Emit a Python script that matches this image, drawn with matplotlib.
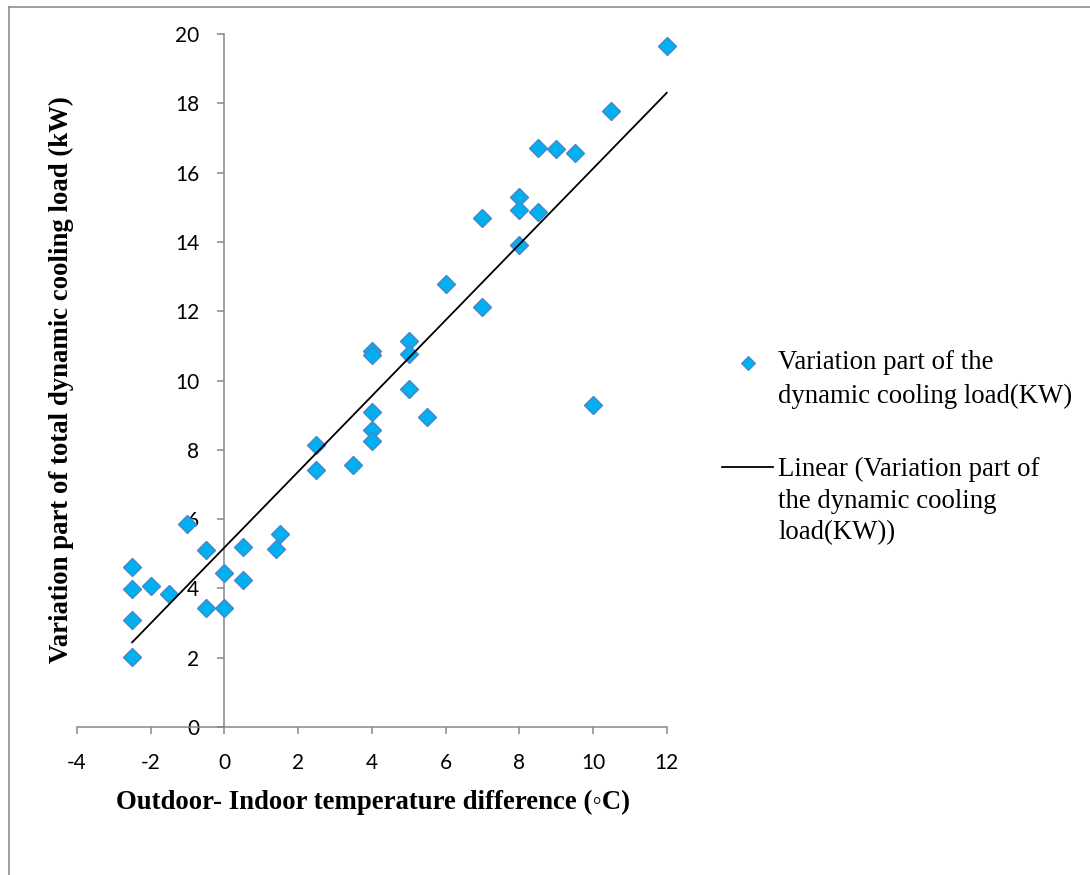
import numpy as np
import matplotlib
matplotlib.use('Agg')
import matplotlib.pyplot as plt
from matplotlib.lines import Line2D

# Разность температур наружного и внутреннего воздуха, °C
temp_diff = [-2.5, -2.5, -2.0, -1.5, -2.5, -2.5, -1.0, -0.5, 0.0, -0.5,
             0.0, 0.5, 0.5, 1.4, 1.5,
             4.0, 4.0, 5.0, 5.0, 5.0, 4.0, 4.0, 4.0, 5.5, 3.5, 2.5, 2.5,
             12.0, 10.5, 8.5, 9.0, 9.5, 8.0, 8.0, 8.5, 7.0, 8.0, 6.0, 7.0, 10.0]
# Переменная часть динамической холодильной нагрузки, кВт
cooling_load = [4.61, 3.98, 4.08, 3.84, 3.08, 2.03, 5.85, 5.11, 4.45, 3.43,
                3.43, 5.20, 4.24, 5.14, 5.56,
                10.85, 10.73, 11.15, 10.78, 9.75, 9.08, 8.56, 8.25, 8.96, 7.56, 8.15, 7.42,
                19.65, 17.78, 16.72, 16.68, 16.56, 15.29, 14.92, 14.86, 14.69, 13.92, 12.78, 12.12, 9.30]

x_ticks = [-4, -2, 0, 2, 4, 6, 8, 10, 12]
y_ticks = [0, 2, 4, 6, 8, 10, 12, 14, 16, 18, 20]

serif = ['Liberation Serif', 'DejaVu Serif']
axis_gray = '#868686'

fig = plt.figure(figsize=(10.9, 8.75), dpi=100)
ax = fig.add_axes([0.0705, 0.1691, 0.5412, 0.7920])

# точки измерений
ax.plot(temp_diff, cooling_load, linestyle='none', marker='D', ms=9,
        markerfacecolor='#00B0F0', markeredgecolor='#4A86C5', mew=1.0,
        zorder=3, clip_on=False)

# линейный тренд (метод наименьших квадратов)
k, b = np.polyfit(temp_diff, cooling_load, 1)
xs = np.array([min(temp_diff), max(temp_diff)])
ax.plot(xs, k * xs + b, color='black', lw=1.3, zorder=4, clip_on=False)

ax.set_xlim(-4, 12)
ax.set_ylim(0, 20)
ax.set_xticks(x_ticks, [str(v) for v in x_ticks])
ax.set_yticks(y_ticks, [str(v) for v in y_ticks])

# оси пересекаются в нуле
ax.spines['left'].set_position(('data', 0))
ax.spines['bottom'].set_position(('data', 0))
ax.spines['top'].set_visible(False)
ax.spines['right'].set_visible(False)
for s in ('left', 'bottom'):
    ax.spines[s].set_color(axis_gray)
    ax.spines[s].set_linewidth(1.1)
ax.tick_params(axis='x', direction='out', length=5, width=1.1, color=axis_gray, pad=14,
               labelsize=15, labelfontfamily='Lato')
ax.tick_params(axis='y', direction='out', length=5, width=1.1, color=axis_gray, pad=13,
               labelsize=15, labelfontfamily='Lato')

fig.text(373 / 1090, 1 - 802 / 875, 'Outdoor- Indoor temperature difference (◦C)',
         ha='center', va='center', fontsize=19.3, fontweight='bold', family=serif)
fig.text(61 / 1090, 1 - 380 / 875, 'Variation part of total dynamic cooling load (kW)',
         ha='center', va='center', rotation=90, fontsize=19.3, fontweight='bold', family=serif)

# легенда
fig.add_artist(Line2D([747.7 / 1090], [1 - 362.5 / 875], transform=fig.transFigure,
                      marker='D', ms=7.5, markerfacecolor='#00B0F0',
                      markeredgecolor='#4A86C5', mew=0.8, linestyle='none'))
fig.add_artist(Line2D([721.7 / 1090, 773 / 1090], [1 - 467 / 875, 1 - 467 / 875],
                      transform=fig.transFigure, color='black', lw=1.3))
legend_lines = [
    ('Variation part of the', 369),
    ('dynamic cooling load(KW)', 403),
    ('Linear (Variation part of', 476),
    ('the dynamic cooling', 508),
    ('load(KW))', 539),
]
for txt, py in legend_lines:
    fig.text(778 / 1090, 1 - py / 875, txt, ha='left', va='baseline',
             fontsize=19.3, family=serif)

# рамка области диаграммы
fig.add_artist(Line2D([9 / 1090, 1.0], [1 - 7 / 875, 1 - 7 / 875],
                      transform=fig.transFigure, color='#8c8c8c', lw=1.2))
fig.add_artist(Line2D([9 / 1090, 9 / 1090], [1 - 7 / 875, 0.0],
                      transform=fig.transFigure, color='#8c8c8c', lw=1.2))

fig.savefig('out.png', dpi=100)
